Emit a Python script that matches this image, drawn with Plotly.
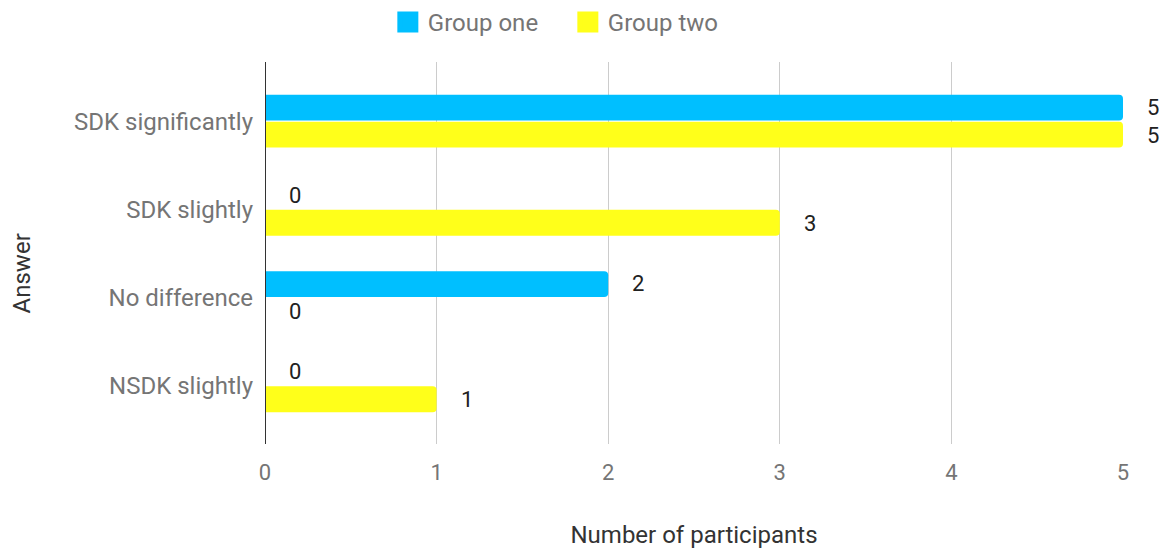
import plotly.graph_objects as go

categories = ["SDK significantly", "SDK slightly", "No difference", "NSDK slightly"]
group_one = [5, 0, 2, 0]
group_two = [5, 3, 0, 1]
x_ticks = [0, 1, 2, 3, 4, 5]
series_names = ["Group one", "Group two"]

BLUE = "#00bfff"
YELLOW = "#ffff1a"
GRAY = "#757575"
FONT = "Roboto"

fig = go.Figure()
for name, vals, color in ((series_names[0], group_one, BLUE), (series_names[1], group_two, YELLOW)):
    fig.add_trace(go.Bar(name=name, y=categories, x=vals, orientation="h", showlegend=False,
                         marker=dict(color=color, line=dict(width=0))))
# legend swatches (bigger squares than bar legend symbols)
for name, color in ((series_names[0], BLUE), (series_names[1], YELLOW)):
    fig.add_trace(go.Scatter(name=name, x=[None], y=[None], mode="markers", showlegend=True,
                             marker=dict(symbol="square", size=16, color=color,
                                         line=dict(color=color, width=5))))

annotations = []
for vals, shift in ((group_one, 14), (group_two, -14)):
    for cat, v in zip(categories, vals):
        annotations.append(dict(x=v, y=cat, xref="x", yref="y", text=str(v), showarrow=False,
                                xshift=30, yshift=shift, font=dict(family=FONT, size=22, color="#212121")))
# y-axis title (placed slightly below the plot centre as in the reference)
annotations.append(dict(text="Answer", xref="paper", yref="paper", x=-0.283, y=0.447,
                        textangle=-90, showarrow=False, xanchor="center", yanchor="middle",
                        font=dict(family=FONT, size=24, color="#333333")))

fig.update_layout(
    width=1166, height=554,
    margin=dict(l=265, r=43, t=62, b=110, autoexpand=False),
    paper_bgcolor="white", plot_bgcolor="white",
    barmode="group", bargap=0.39, bargroupgap=0.04, barcornerradius=4,
    font=dict(family=FONT, size=24, color=GRAY),
    legend=dict(orientation="h", x=0.487, xref="container", xanchor="center", y=1, yref="container",
                yanchor="top", font=dict(family=FONT, size=24, color=GRAY), traceorder="normal",
                itemsizing="trace", entrywidth=135),
    annotations=annotations,
    showlegend=True,
)
fig.update_xaxes(range=[0, 5], tickvals=x_ticks, showgrid=True, gridcolor="#cccccc", gridwidth=1,
                 zeroline=False, showline=False, tickfont=dict(size=22, color=GRAY),
                 ticklabelstandoff=13,
                 title=dict(text="Number of participants", standoff=42,
                            font=dict(size=24, color="#333333")))
fig.update_yaxes(categoryorder="array", categoryarray=categories, autorange=False,
                 range=[3.66, -0.67], showgrid=False, zeroline=False,
                 showline=False, tickfont=dict(size=24, color=GRAY), ticklabelstandoff=11)
fig.add_vline(x=0, line=dict(color="#333333", width=2))

fig.write_html("out.html")
